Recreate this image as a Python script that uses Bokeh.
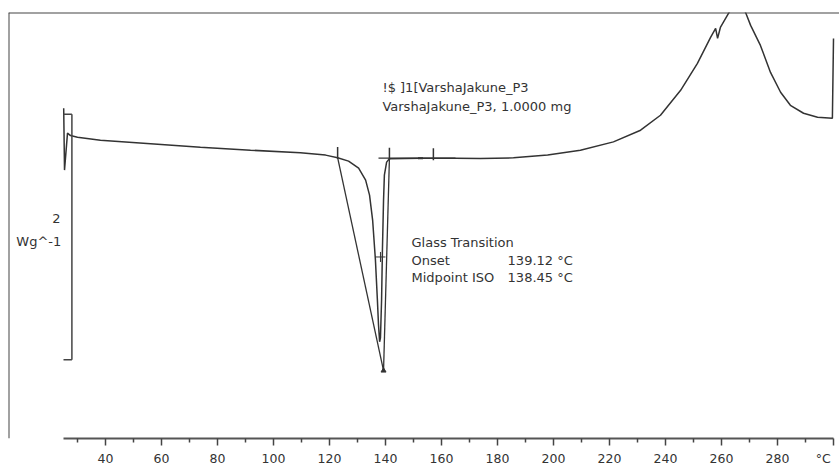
from bokeh.plotting import figure
from bokeh.models import Range1d, FixedTicker, Span
from bokeh.core.properties import value
from bokeh.embed import file_html
from bokeh.resources import INLINE

# ---- DSC curve (temperature in °C, heat flow in W/g, arbitrary offset) ----
temp = [25.07, 25.36, 26.43, 27.5, 30.0, 38.2, 56.1, 73.9, 91.8, 109.6, 118.6,
        122.9, 126.8, 130.4, 132.9, 134.3, 135.4, 136.4, 137.1, 137.5, 137.9,
        138.2, 138.6, 138.9, 139.3, 139.6, 140.4, 141.4, 152.5, 165.0, 173.9,
        185.7, 197.9, 209.6, 221.4, 231.1, 238.2, 245.4, 251.4, 256.1, 257.9,
        258.6, 259.6, 262.5, 264.5, 266.3, 268.6, 270.4, 273.9, 277.5, 281.1,
        284.6, 289.3, 294.3, 299.6, 300.0]
heat_flow = [2.049, 1.545, 1.846, 1.826, 1.812, 1.789, 1.760, 1.732, 1.707, 1.687, 1.667,
             1.646, 1.618, 1.561, 1.463, 1.341, 1.138, 0.813, 0.488, 0.285, 0.146,
             0.179, 0.488, 0.894, 1.301, 1.504, 1.610, 1.638, 1.642, 1.642, 1.640,
             1.645, 1.667, 1.707, 1.775, 1.870, 1.992, 2.195, 2.415, 2.626, 2.699,
             2.618, 2.707, 2.821, 2.90, 2.92, 2.829, 2.724, 2.561, 2.341, 2.179,
             2.073, 2.008, 1.976, 1.967, 2.618]

# ---- glass-transition evaluation construction ----
tangent_x0 = [122.9, 139.3, 137.5]
tangent_y0 = [1.646, -0.089, 1.642]
tangent_x1 = [139.3, 141.4, 165.0]
tangent_y1 = [-0.089, 1.642, 1.642]

limit_marks_t = [122.9, 141.4, 157.1]
limit_marks_v = [1.685, 1.679, 1.675]
baseline_dash_t = [152.5]
baseline_dash_v = [1.642]
midpoint_t = [138.2]
midpoint_v = [0.837]
onset_t = [139.3]
onset_v = [-0.089]

# ---- scale bar (2 W/g) ----
scale_values = [0.0, 2.0]
scale_t_left = 25.0
scale_t_right = 28.0

# ---- axis ticks ----
major_ticks = [40, 60, 80, 100, 120, 140, 160, 180, 200, 220, 240, 260, 280, 300]
minor_ticks = [30, 50, 70, 90, 110, 130, 150, 170, 190, 210, 230, 250, 270, 290]
tick_labels = {300: "°C\u2002\u2009"}

X_START, X_END = 5.357, 302.14
Y_START, Y_END = -0.642, 2.829

FONT = value("DejaVu Sans")
INK = "#333333"
FS = "13px"

p = figure(width=839, height=468, output_backend="svg", toolbar_location=None,
           x_range=Range1d(X_START, X_END), y_range=Range1d(Y_START, Y_END),
           y_axis_location=None, min_border_left=8, min_border_right=0,
           min_border_top=12, min_border_bottom=29)
p.grid.visible = False
p.outline_line_color = None
p.background_fill_color = "white"
p.border_fill_color = "white"

# frame lines (left and top)
p.add_layout(Span(location=X_START, dimension="height", line_color="#444444", line_width=2))
p.add_layout(Span(location=Y_END, dimension="width", line_color="#444444", line_width=2))

ax = p.xaxis[0]
ax.bounds = (25, 300)
ax.ticker = FixedTicker(ticks=major_ticks, minor_ticks=minor_ticks)
ax.major_label_overrides = tick_labels
ax.axis_line_color = "#555555"
ax.axis_line_width = 2
ax.major_tick_in = 0
ax.major_tick_out = 7
ax.minor_tick_in = 0
ax.minor_tick_out = 4
ax.major_tick_line_color = "#444444"
ax.minor_tick_line_color = "#444444"
ax.major_tick_line_width = 1.5
ax.minor_tick_line_width = 1.5
ax.major_label_standoff = 5
ax.major_label_text_font = "DejaVu Sans"
ax.major_label_text_font_size = "12.5px"
ax.major_label_text_color = INK

# curve
p.line(temp, heat_flow, line_color=INK, line_width=1.5)

# evaluation lines
p.segment(x0=tangent_x0, y0=tangent_y0, x1=tangent_x1, y1=tangent_y1,
          line_color=INK, line_width=1.3)
p.scatter(limit_marks_t, limit_marks_v, marker="dash", angle=1.5708, size=12,
          line_color=INK, line_width=1.5)
p.scatter(baseline_dash_t, baseline_dash_v, marker="dash", size=5,
          line_color=INK, line_width=2)
p.scatter(midpoint_t, midpoint_v, marker="cross", size=10, line_color=INK, line_width=1)
p.scatter(onset_t, onset_v, marker="triangle", size=5, line_color=INK, fill_color=INK)

# scale bar
p.segment(x0=[scale_t_right], y0=[scale_values[0]], x1=[scale_t_right], y1=[scale_values[1]],
          line_color="#444444", line_width=1.5)
p.segment(x0=[scale_t_left, scale_t_left], y0=scale_values,
          x1=[scale_t_right, scale_t_right], y1=scale_values,
          line_color="#444444", line_width=1.5)
p.text(x=[23.9], y=[1.154], text=["2"], text_align="right", text_baseline="middle",
       text_font=FONT, text_font_size=FS, text_color=INK)
p.text(x=[24.2], y=[0.967], text=["Wg^-1"], text_align="right", text_baseline="middle",
       text_font=FONT, text_font_size=FS, text_color=INK)

# annotations
p.text(x=[138.9, 138.9], y=[2.220, 2.065],
       text=["!$ ]1[VarshaJakune_P3", "VarshaJakune_P3, 1.0000 mg"],
       text_align="left", text_baseline="middle",
       text_font=FONT, text_font_size=FS, text_color=INK)
p.text(x=[149.3, 149.3, 149.3], y=[0.959, 0.805, 0.667],
       text=["Glass Transition", "Onset", "Midpoint ISO"],
       text_align="left", text_baseline="middle",
       text_font=FONT, text_font_size=FS, text_color=INK)
p.text(x=[183.6, 183.6], y=[0.805, 0.667],
       text=["139.12 °C", "138.45 °C"],
       text_align="left", text_baseline="middle",
       text_font=FONT, text_font_size=FS, text_color=INK)

open("out.html", "w").write(file_html(p, INLINE))
